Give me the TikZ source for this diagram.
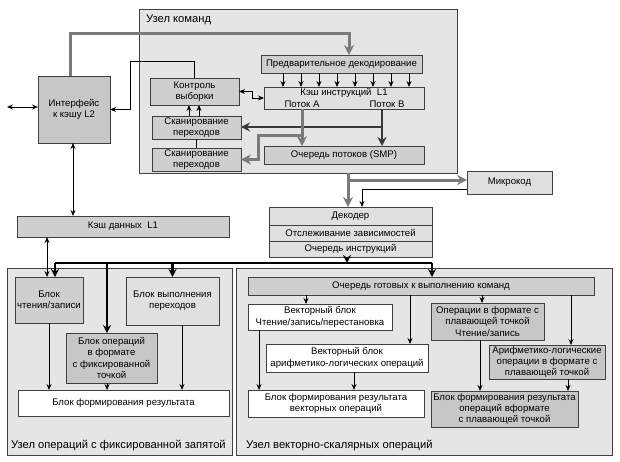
\documentclass[tikz,border=0pt]{standalone}
\usepackage{fontspec}
\setmainfont{Liberation Sans}
\usetikzlibrary{calc}
\usetikzlibrary{arrows.meta}

\begin{document}
\begin{tikzpicture}[x=1pt,y=-1pt,
        zone/.style={draw=black!75,fill=gray!20,line width=.8pt,inner sep=0pt,outer sep=0pt},
        blk/.style={draw=black!75,fill=gray!38,line width=.6pt,inner sep=0pt,outer sep=0pt,
                align=center,font=\fontsize{9.6}{11.2}\selectfont},
        lblk/.style={blk,fill=gray!24},
        wblk/.style={blk,fill=white},
        dblk/.style={blk,fill=gray!44},
        zlabel/.style={anchor=west,inner sep=0pt,font=\fontsize{11.2}{13}\selectfont},
        itext/.style={inner sep=0pt,font=\fontsize{9.6}{11.2}\selectfont},
        thinar/.style={black,line width=.9pt,>={Stealth[length=6pt,width=5pt]}},
        grayar/.style={black!52,line width=3pt,>={Stealth[length=10pt,width=10pt]}},
        darkar/.style={black!78,line width=2.6pt,>={Stealth[length=9pt,width=9pt]}},
        busar/.style={black,line width=2.2pt,>={Stealth[length=8pt,width=8pt]}}]
        \useasboundingbox (0,0) rectangle (620,461);
        % zones
        \node[zone,minimum width=318,minimum height=164] (cmd) at (298,91) {};
        \node[zlabel] (cmdlbl) at (146,20) {Узел команд};
        \node[zone,minimum width=225,minimum height=187] (fix) at (119.5,361.5) {};
        \node[zlabel] (fixlbl) at (11,445) {Узел операций с фиксированной запятой};
        \node[zone,minimum width=376,minimum height=187] (vec) at (424,361.5) {};
        \node[zlabel] (veclbl) at (246,445) {Узел векторно-скалярных операций};
        % command unit
        \node[dblk,minimum width=72,minimum height=67] (l2) at (74,109.5) {Интерфейс\\к кэшу L2};
        \node[blk,minimum width=161,minimum height=18] (pre) at (341.5,64) {Предварительное декодирование};
        \node[lblk,minimum width=160,minimum height=22] (ic) at (344,98) {};
        \node[itext] (ictxt) at (344,93) {Кэш инструкций\ \ L1};
        \node[itext] (ica) at (302,104) {Поток А};
        \node[itext] (icb) at (387,104) {Поток В};
        \node[blk,minimum width=89,minimum height=27] (fc) at (194.5,91.5) {Контроль\\выборки};
        \node[blk,minimum width=89,minimum height=23] (bs1) at (196.5,127.5) {Сканирование\\переходов};
        \node[blk,minimum width=89,minimum height=23] (bs2) at (196.5,159.5) {Сканирование\\переходов};
        \node[blk,minimum width=160,minimum height=18] (tq) at (344,155) {Очередь потоков (SMP)};
        \node[lblk,minimum width=85,minimum height=23] (mc) at (509.5,182.5) {Микрокод};
        \node[lblk,minimum width=163,minimum height=18] (dec1) at (350.5,216) {Декодер};
        \node[lblk,minimum width=163,minimum height=16] (dec2) at (350.5,233) {Отслеживание зависимостей};
        \node[lblk,minimum width=163,minimum height=16] (dec3) at (350.5,249) {Очередь инструкций};
        \node[blk,minimum width=212,minimum height=21] (dl1) at (123,226.5) {Кэш данных\ \ L1};
        % fixed point unit
        \node[blk,minimum width=68,minimum height=46] (ls) at (49,300) {Блок\\чтения/записи};
        \node[lblk,minimum width=93,minimum height=48] (br) at (172.5,301) {Блок выполнения\\переходов};
        \node[dblk,minimum width=91,minimum height=50] (alu) at (111.5,358) {Блок операций\\в формате\\с фиксированной\\точкой};
        \node[wblk,minimum width=211,minimum height=26] (res) at (123.5,403) {Блок формирования результата};
        % vector unit
        \node[blk,minimum width=346,minimum height=18] (rq) at (421,286) {Очередь готовых к выполнению команд};
        \node[wblk,minimum width=144,minimum height=26] (vls) at (320,317) {Векторный блок\\Чтение/запись/перестановка};
        \node[wblk,minimum width=162,minimum height=28] (valu) at (347,358) {Векторный блок\\арифметико-логических операций};
        \node[wblk,minimum width=176,minimum height=27] (vres) at (336,403.5) {Блок формирования результата\\векторных операций};
        \node[dblk,minimum width=113,minimum height=37] (fls) at (487.5,321.5) {Операции в формате с\\плавающей точкой\\Чтение/запись};
        \node[dblk,minimum width=116,minimum height=34] (falu) at (547,362) {Арифметико-логические\\операции в формате с\\плавающей точкой};
        \node[dblk,minimum width=147,minimum height=36] (fres) at (504.5,409) {Блок формирования результата\\операций вформате\\с плавающей точкой};
        % helper points
        \coordinate (ext) at (7,107);
        \coordinate (top) at (349,33);
        \coordinate (fcup) at (130,61);
        \coordinate (pa) at (302,135);
        \coordinate (pb) at (382,127);
        \coordinate (cb) at (348,180);
        \coordinate (busL) at (55,263);
        \coordinate (busR) at (432,263);
        % connectors of the command unit
        \draw[thinar,<->] (ext) -- (l2.west |- ext);
        \draw[grayar,->] (l2.north -| 70,0) |- (top) -- (pre.north -| top);
        \draw[thinar,->] (fc.north) |- (fcup) |- (l2.east);
        \draw[thinar,<->] (fc.east) -- (252,91.5) |- (ic.west);
        \foreach \x in {283,301,...,409}
                \draw[thinar,->] (pre.south -| \x,0) -- (ic.north -| \x,0);
        \foreach \x in {189,199}
                \draw[thinar,->] (bs1.north -| \x,0) -- (fc.south -| \x,0);
        \draw[thinar] (bs1.south) -- (bs2.north);
        \draw[darkar,->] (pb) -- (bs1.east |- pb);
        \draw[darkar,->] (ic.south -| pb) -- (tq.north -| pb);
        \draw[grayar,->] (pa) -- (258,135) |- (bs2.east);
        \draw[grayar,->] (ic.south -| pa) -- (tq.north -| pa);
        % decoder and microcode
        \draw[grayar,->] (cmd.south -| cb) -- (dec1.north -| cb);
        \draw[grayar,->] (cb) -- (cb -| mc.west);
        \draw[thinar,->] ($(mc.south west)+(0,-5)$) -| (dec1.north -| 362,0);
        \draw[thinar,<->] (l2.south -| 73,0) -- (dl1.north -| 73,0);
        \draw[thinar,<->] (dl1.south -| 47,0) -- (ls.north -| 47,0);
        % bus to the execution units
        \draw[busar] (busL) -- (busR);
        \draw[busar,->] (dec3.south -| 347,0) -- (busL -| 347,0);
        \draw[busar,->] (busR) -- (rq.north -| busR);
        \draw[busar,->] (busL) -- (ls.north -| busL);
        \draw[busar,->] (br.north |- busL) -- (br.north);
        \draw[busar,->] (busL -| 107,0) -- (alu.north -| 107,0);
        % fixed point unit
        \draw[thinar,->] (ls.south) -- (res.north -| ls.south);
        \draw[thinar,->] (alu.south -| 107,0) -- (res.north -| 107,0);
        \draw[thinar,->] (br.south -| 182,0) -- (res.north -| 182,0);
        % vector unit
        \foreach \x/\n in {306/vls,410/valu,482/fls,571/falu}
                \draw[thinar,->] (rq.south -| \x,0) -- (\n.north -| \x,0);
        \draw[thinar,->] (vls.south -| 259,0) -- (vres.north -| 259,0);
        \draw[thinar,->] (valu.south -| 354,0) -- (vres.north -| 354,0);
        \draw[thinar,->] (fls.south -| 480,0) -- (fres.north -| 480,0);
        \draw[thinar,->] (falu.south -| 568,0) -- (fres.north -| 568,0);
\end{tikzpicture}
\end{document}
